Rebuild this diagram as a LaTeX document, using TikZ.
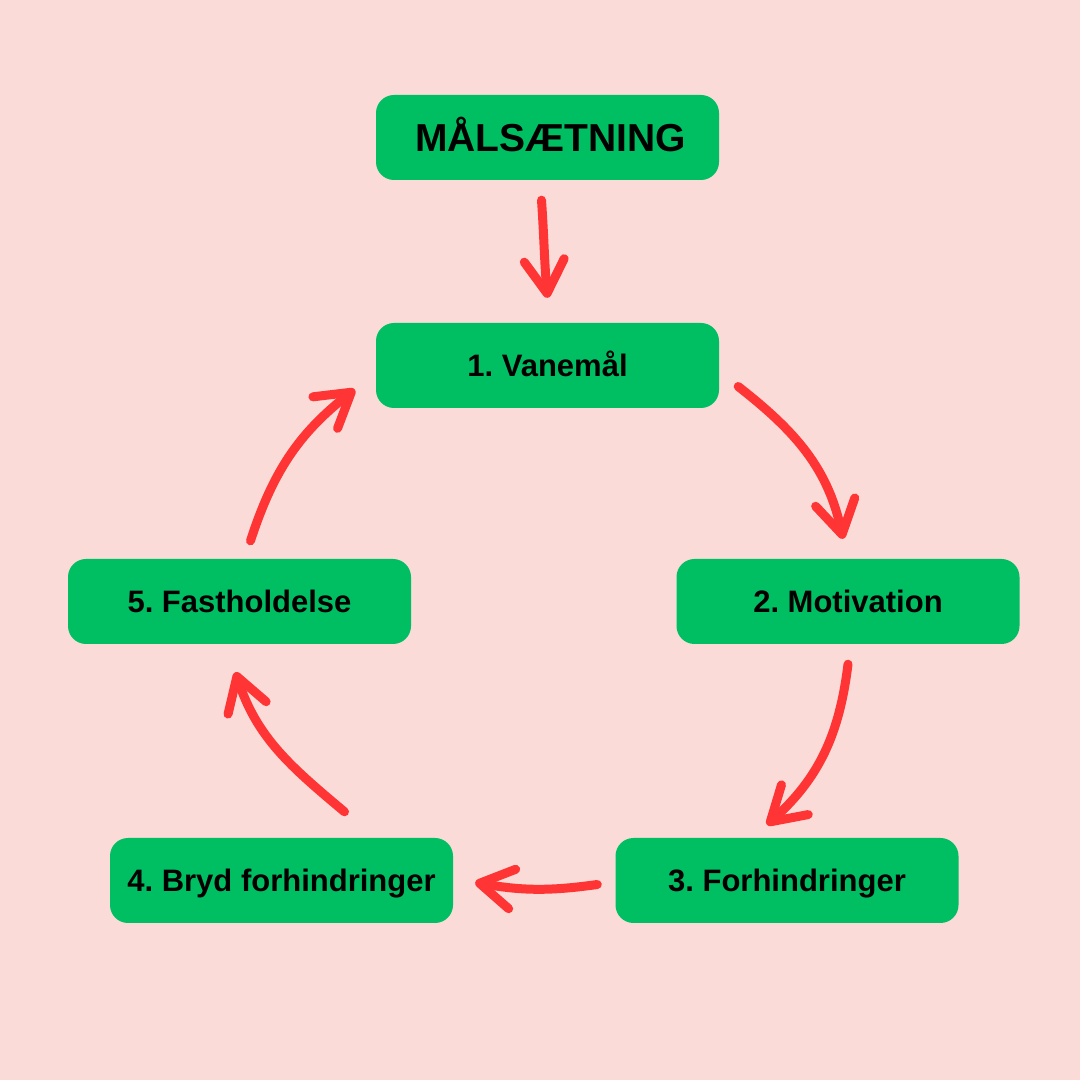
\documentclass[tikz,border=0pt]{standalone}
\usepackage{fontspec}
\setmainfont{Liberation Sans}
\usetikzlibrary{arrows.meta,calc}
\definecolor{bgpink}{HTML}{FADBD7}
\definecolor{boxgreen}{HTML}{00BF63}
\definecolor{arrred}{HTML}{FF3434}
\frenchspacing
\tikzset{
  stepbox/.style={rectangle, rounded corners=18pt, fill=boxgreen, draw=none,
    minimum width=343pt, minimum height=85pt, inner sep=0pt,
    text height=22pt, text depth=0pt,
    font=\fontsize{31}{36}\selectfont\bfseries, text=black},
  titlebox/.style={stepbox, text height=28pt, font=\fontsize{39}{44}\selectfont\bfseries},
  arr/.style={draw=arrred, line width=9pt, line cap=round, line join=round,
    -{Straight Barb[length=33pt, width=40pt, round]}}
}
\begin{document}
\begin{tikzpicture}[x=1pt,y=1pt]
\fill[bgpink] (0,0) rectangle (1080,1080);
\useasboundingbox (0,0) rectangle (1080,1080);
\node[titlebox] (m)  at (547.5,942.5) {\hspace*{6pt}MÅLSÆTNING};
\node[stepbox]  (v)  at (547.5,714.5) {1. Vanemål};
\node[stepbox]  (mo) at (848,478.5)   {2. Motivation};
\node[stepbox]  (f)  at (787,199.5)   {3. Forhindringer};
\node[stepbox]  (b)  at (281.5,199.5) {4. Bryd forhindringer};
\node[stepbox]  (fa) at (239.5,478.5) {5. Fastholdelse};

\draw[arr] ($(m.south)+(-6,-20)$) to[out=-86,in=95] ($(v.north)+(0,25)$);
\draw[arr] ($(v.east)+(19,-21)$) to[out=-38,in=102] ($(mo.north)+(-5,20)$);
\draw[arr] ($(mo.south)+(0,-20)$) to[out=-97,in=42] ($(f.north)+(-20,13)$);
\draw[arr] ($(f.west)+(-18,-4)$) to[out=-172,in=-10] ($(b.east)+(22,-2)$);
\draw[arr] ($(b.north)+(63,26)$) to[out=140,in=-72] ($(fa.south)+(-4,-28)$);
\draw[arr] ($(fa.north)+(11,18)$) to[out=72,in=-142] ($(v.west)+(-21,-24)$);
\end{tikzpicture}
\end{document}
